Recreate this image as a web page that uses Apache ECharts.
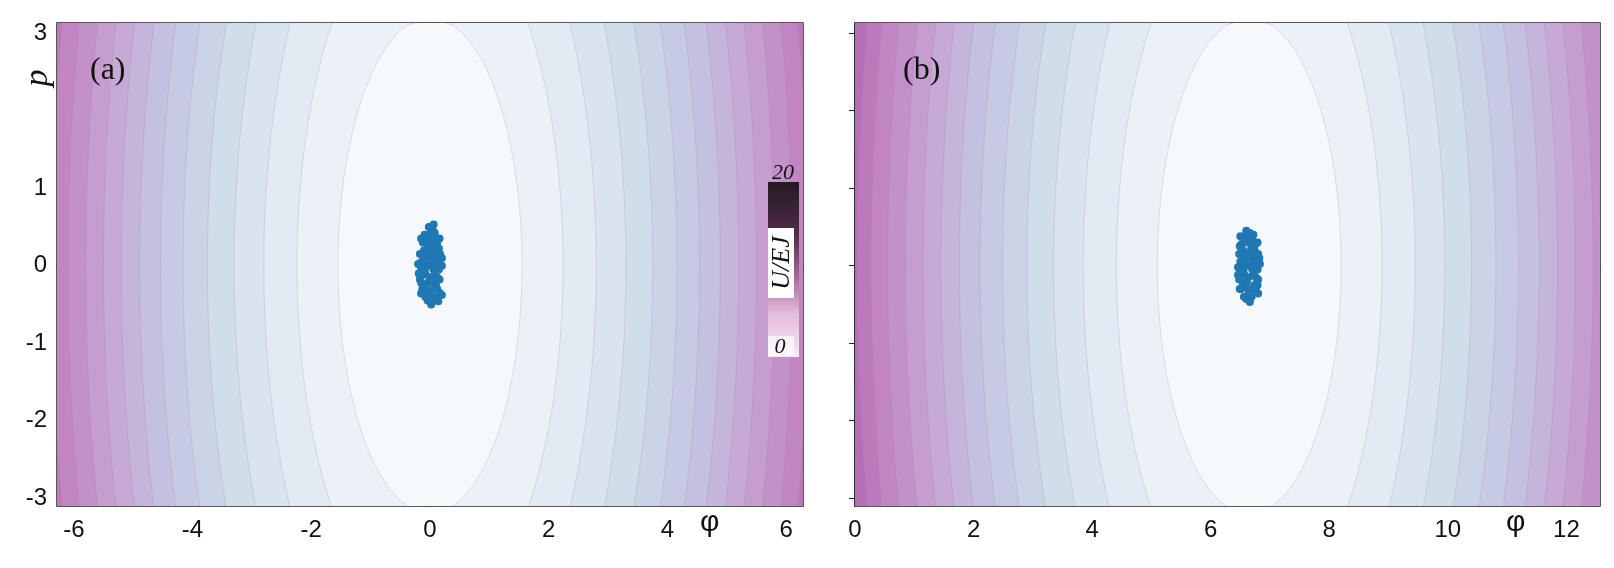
<!DOCTYPE html>
<html><head><meta charset="utf-8">
<script src="https://cdn.jsdelivr.net/npm/echarts@6/dist/echarts.min.js"></script>
<style>html,body{margin:0;padding:0;background:#fff}#c{width:1614px;height:568px}</style>
</head><body><div id="c"></div>
<script>
// contour boundary half-widths at p=0 (phi units)
const levels = [1.55,2.24,2.8,3.3,3.75,4.16,4.54,4.89,5.2,5.5,5.8,6.1,6.38,6.62,6.85];
const bandColors = ['#f5f9fc','#ebf1f7','#e2eaf3','#d9e4ef','#d1dde9','#cbd4e7','#c6cbe3','#c4c0df','#c5b5da','#c6a9d5','#c59dcf','#c391c9','#c085c2','#bc7abc','#b56fb5','#ad65ae'];
const pCurv = 0.234;          // p-weight of the boundary ellipse
const centerA = 0, centerB = 6.65;
const xTicksA = [-6,-4,-2,0,2,4,6];
const xTicksB = [0,2,4,6,8,10,12];
const yTicks = [-3,-2,-1,0,1,2,3];
const yLabelHide = [2];
const pointsA = [[0,0],[0.05,0.1],[-0.05,0.1],[0.08,-0.1],[-0.08,-0.1],[0.1,0.2],[-0.1,0.2],[0,0.3],[0.06,0.35],[-0.06,0.38],[0.02,0.45],[-0.02,0.5],[0.1,-0.25],[-0.1,-0.25],[0,-0.35],[0.05,-0.4],[-0.04,-0.45],[0.02,-0.5],[0.14,0.05],[-0.14,0.05],[0.15,-0.05],[-0.15,-0.05],[0.12,0.3],[-0.12,0.3],[0.12,-0.3],[-0.13,-0.3],[0.17,0.15],[-0.17,0.15],[0.16,-0.18],[-0.17,-0.18],[0.08,0.42],[-0.09,0.4],[0.1,-0.42],[-0.08,-0.4],[0.2,0],[-0.2,0.02],[0.05,0.25],[-0.04,-0.22],[0.11,0.0],[-0.11,0.0],[0.2,0.1],[-0.19,-0.1],[0.06,0.53],[0.14,-0.46],[0.2,-0.38],
  [0,0.15],[0,-0.15],[0.05,-0.3],[-0.05,0.3],[0.06,-0.05],[-0.06,0.05],[0.12,0.12],[-0.12,-0.12],[0.12,-0.15],[-0.12,0.15],[0.05,0.45],[-0.05,-0.35],[0.15,0.22],[-0.15,-0.22],[0,0.4],[0,-0.42],[0.08,0.28],[-0.08,-0.28],[0.16,0.35],[-0.15,0.35],[0.16,-0.35],[-0.15,-0.36],[0.09,0.05],[-0.09,-0.05],[0.03,-0.2],[-0.03,0.22]];
const pointsB = [[6.64,0],[6.69,0.1],[6.59,0.1],[6.72,-0.1],[6.56,-0.1],[6.74,0.2],[6.54,0.2],[6.64,0.3],[6.7,0.35],[6.58,0.36],[6.66,0.42],[6.6,0.45],[6.74,-0.25],[6.54,-0.25],[6.64,-0.33],[6.69,-0.4],[6.6,-0.43],[6.66,-0.47],[6.78,0.05],[6.5,0.05],[6.79,-0.05],[6.49,-0.05],[6.76,0.28],[6.52,0.28],[6.76,-0.3],[6.51,-0.3],[6.8,0.15],[6.48,0.15],[6.8,-0.18],[6.48,-0.18],[6.72,0.4],[6.56,-0.4],[6.83,0.02],[6.46,-0.02],[6.69,0.22],[6.6,-0.2],[6.75,0.0],[6.53,0.0],[6.82,0.1],[6.46,-0.12],[6.8,-0.36],[6.5,0.38],
  [6.64,0.15],[6.64,-0.15],[6.69,-0.3],[6.59,0.3],[6.7,-0.05],[6.58,0.05],[6.76,0.12],[6.52,-0.12],[6.76,-0.15],[6.52,0.15],[6.64,0.4],[6.64,-0.4],[6.72,0.28],[6.56,-0.28],[6.79,0.3],[6.49,-0.3],[6.79,-0.25],[6.49,0.25],[6.67,0.2],[6.61,-0.22],[6.73,0.05],[6.55,-0.05]];

function bandSeries(xi, yi, center){
  const order = levels.map((a,i)=>i).reverse();
  return {
    type:'custom', xAxisIndex:xi, yAxisIndex:yi, clip:true, silent:true, z:1,
    data: order.map(i=>[i]),
    renderItem:function(params, api){
      const i = api.value(0); const a = levels[i];
      const pts=[]; const N=60; const pm=Math.min(3.3, a/Math.sqrt(pCurv));
      for(let k=0;k<=N;k++){const p=-pm+2*pm*k/N; pts.push(api.coord([center+Math.sqrt(Math.max(0,a*a-pCurv*p*p)),p]));}
      for(let k=N;k>=0;k--){const p=-pm+2*pm*k/N; pts.push(api.coord([center-Math.sqrt(Math.max(0,a*a-pCurv*p*p)),p]));}
      return {type:'polygon', shape:{points:pts}, style:{fill:bandColors[i], stroke:'rgba(150,120,170,0.22)', lineWidth:1}};
    }
  };
}
const axisFont = {fontFamily:'Liberation Sans', fontSize:24, color:'#111'};
function xAxis(gi, min, max, ticks){
  return {type:'value', gridIndex:gi, min:min, max:max, splitLine:{show:false},
    axisLine:{show:true, lineStyle:{color:'#222',width:1.5}},
    axisTick:{show:true, length:6, lineStyle:{color:'#222'}, customValues:ticks},
    axisLabel:Object.assign({margin:12, customValues:ticks}, axisFont)};
}
function yAxis(gi, showLabel){
  return {type:'value', gridIndex:gi, min:-3.1, max:3.13, splitLine:{show:false},
    axisLine:{show:true, lineStyle:{color:'#222',width:1.5}},
    axisTick:{show:true, length:6, lineStyle:{color:'#222'}, customValues:yTicks},
    axisLabel:Object.assign({show:showLabel, margin:10, customValues:yTicks,
      formatter:v=>yLabelHide.indexOf(v)>=0?'':String(v)}, axisFont)};
}
const chart = echarts.init(document.getElementById('c'));
chart.setOption({
  animation:false,
  grid:[{left:57,top:23,width:746,height:483,show:true,backgroundColor:bandColors[15],borderColor:'#222',borderWidth:1.5},
        {left:855,top:23,width:745,height:483,show:true,backgroundColor:bandColors[15],borderColor:'#222',borderWidth:1.5}],
  xAxis:[xAxis(0,-2*Math.PI,2*Math.PI,xTicksA), xAxis(1,0,4*Math.PI,xTicksB)],
  yAxis:[yAxis(0,true), yAxis(1,false)],
  series:[
    bandSeries(0,0,centerA), bandSeries(1,1,centerB),
    {type:'scatter', xAxisIndex:0, yAxisIndex:0, data:pointsA, symbolSize:8, itemStyle:{color:'#1f77b4',opacity:1}, z:5},
    {type:'scatter', xAxisIndex:1, yAxisIndex:1, data:pointsB, symbolSize:8, itemStyle:{color:'#1f77b4',opacity:1}, z:5}
  ],
  graphic:[
    {type:'text', left:90, top:55, z:10, style:{text:'(a)', font:'32px "Liberation Serif"', fill:'#111'}},
    {type:'text', left:903, top:55, z:10, style:{text:'(b)', font:'32px "Liberation Serif"', fill:'#111'}},
    {type:'text', left:700, top:508, z:10, style:{text:'φ', font:'30px "Liberation Sans"', fill:'#111'}},
    {type:'text', left:1506, top:508, z:10, style:{text:'φ', font:'30px "Liberation Sans"', fill:'#111'}},
    {type:'text', x:38, y:78, rotation:Math.PI/2, z:10, style:{text:'p', font:'italic 34px "Liberation Serif"', fill:'#111', align:'center', verticalAlign:'middle'}},
    {type:'rect', shape:{x:768,y:182,width:31,height:175}, z:10,
      style:{fill:{type:'linear',x:0,y:0,x2:0,y2:1,colorStops:[{offset:0,color:'#231a22'},{offset:0.3,color:'#4e2c48'},{offset:0.55,color:'#a86c9a'},{offset:0.75,color:'#e4bcd9'},{offset:1,color:'#f7ebf4'}]}}},
    {type:'rect', shape:{x:768,y:228,width:26,height:70}, z:11, style:{fill:'#fff'}},
    {type:'text', x:782, y:263, rotation:Math.PI/2, z:12, style:{text:'U/EJ', font:'italic 26px "Liberation Serif"', fill:'#111', align:'center', verticalAlign:'middle'}},
    {type:'rect', shape:{x:768,y:336,width:26,height:20}, z:11, style:{fill:'rgba(255,255,255,0.6)'}},
    {type:'text', x:783, y:173, z:12, style:{text:'20', font:'italic 22px "Liberation Serif"', fill:'#111', align:'center', verticalAlign:'middle'}},
    {type:'text', x:780, y:347, z:12, style:{text:'0', font:'italic 22px "Liberation Serif"', fill:'#111', align:'center', verticalAlign:'middle'}}
  ]
});
</script></body></html>
